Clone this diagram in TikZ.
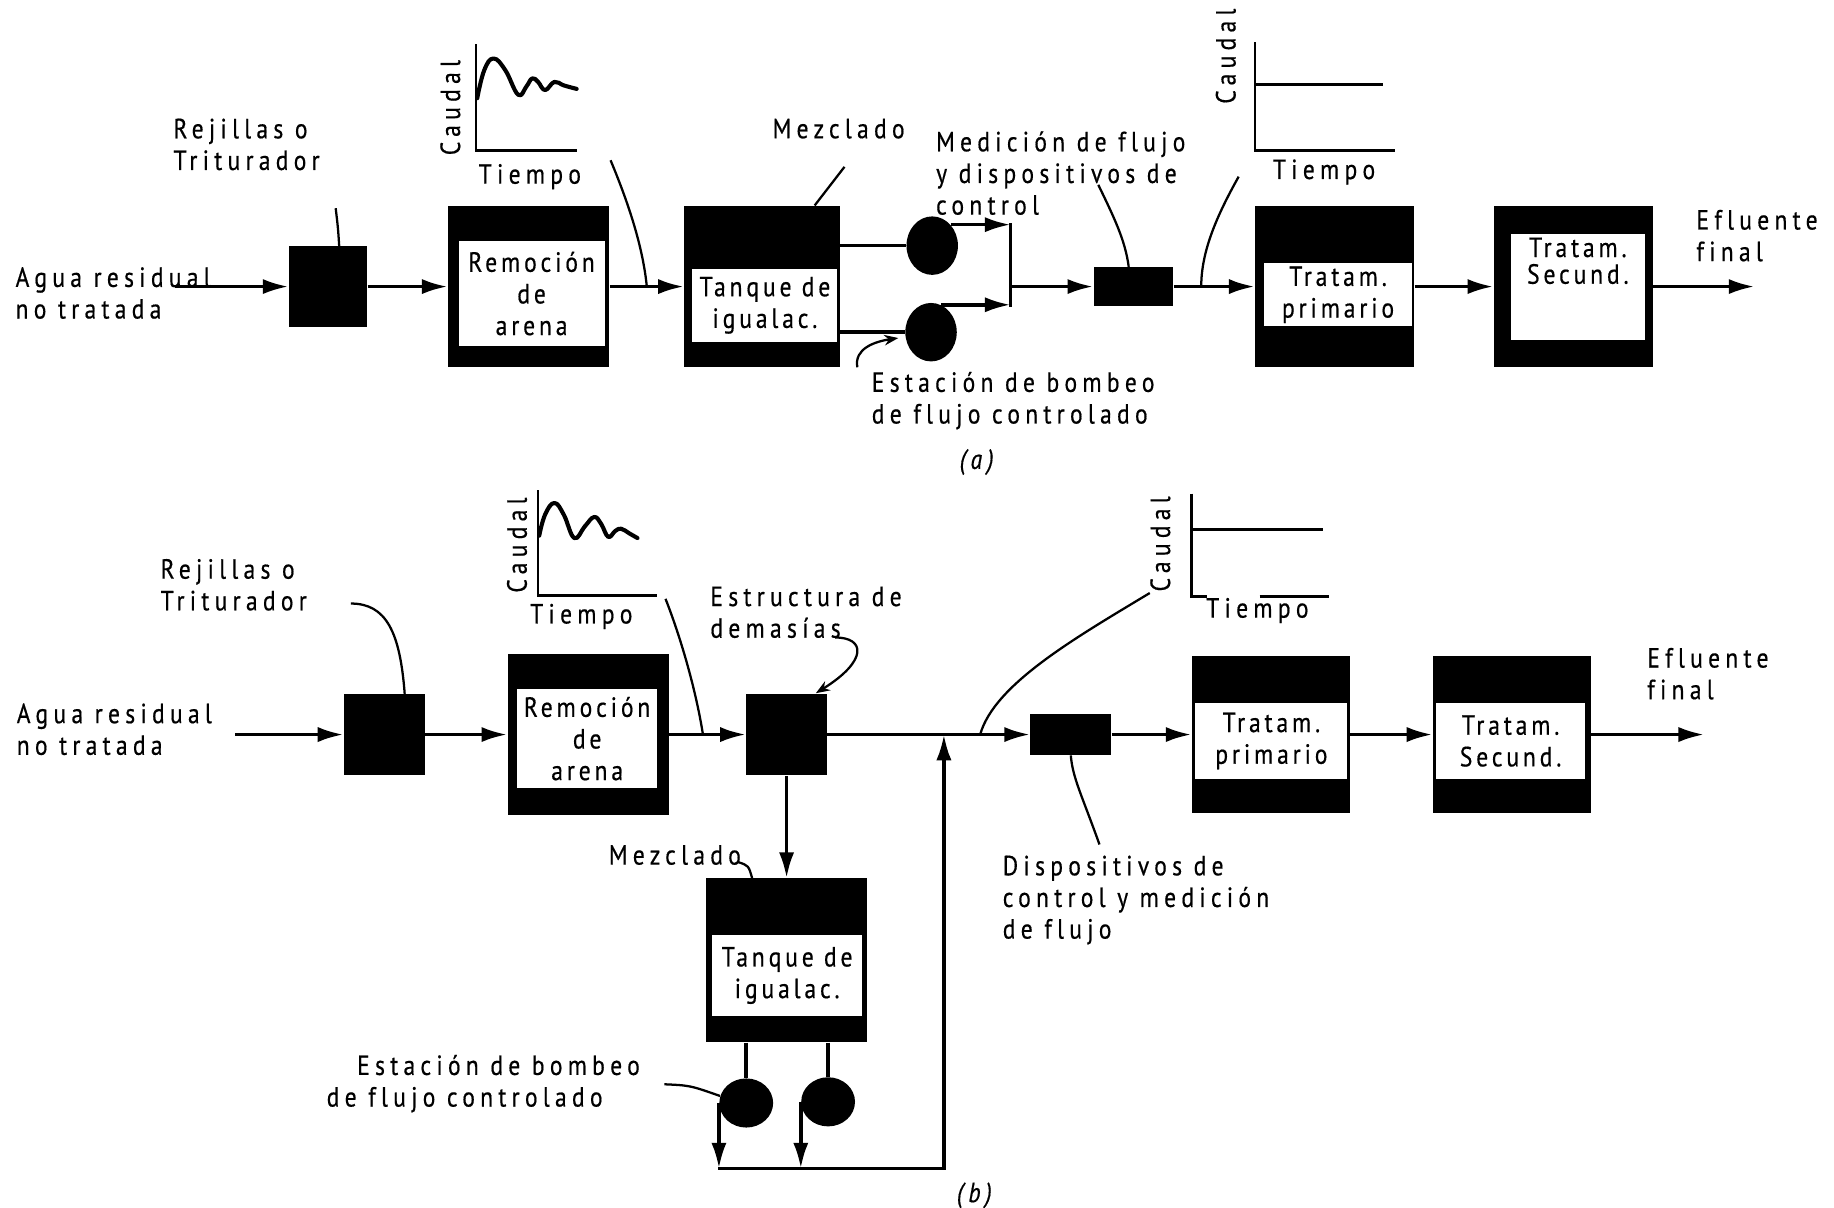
\documentclass[tikz,border=0pt]{standalone}
\usepackage{fontspec}
\setmainfont{PT Sans}[LetterSpace=19,FakeStretch=0.85,FakeBold=0.5,Ligatures=NoCommon]
\newfontfamily\boxfont{PT Sans}[LetterSpace=14,FakeStretch=0.85,FakeBold=0.5,Ligatures=NoCommon]
\usetikzlibrary{arrows.meta,shapes.geometric}
\begin{document}
\begin{tikzpicture}[x=0.02cm,y=-0.02cm,
  every node/.style={font=\fontsize{13.5pt}{15.4pt}\selectfont},
  blk/.style={fill=black,draw=none,inner sep=0pt},
  wht/.style={fill=white,draw=none,inner sep=0pt,align=center,font=\fontsize{13.5pt}{15.4pt}\boxfont},
  lbl/.style={align=left,inner sep=0pt},
  pump/.style={ellipse,fill=black,inner sep=0pt},
  arr/.style={line width=1.7pt,-{Latex[length=0.44cm,width=0.26cm]}},
  conn/.style={line width=1.7pt},
  lead/.style={line width=1.1pt},
  leadarr/.style={line width=1.1pt,-{Stealth[length=0.24cm,width=0.18cm]}},
  axis/.style={line width=1.4pt},
  wave/.style={line width=2pt,line cap=round,line join=round},
  figcap/.style={font=\fontsize{13.5pt}{15.4pt}\selectfont\itshape}
]
\useasboundingbox (0,0) rectangle (1568,1032);

% ================= (a) =================
\node[lbl,anchor=west] (aguaA) at (13,250.5) {Agua residual\\no tratada};
\node[lbl,anchor=west] (rejA) at (148,123.5) {Rejillas o\\Triturador};
\node[blk,minimum width=1.34cm,minimum height=1.38cm] (sA) at (280.5,245) {};
\node[blk,minimum width=2.76cm,minimum height=2.76cm] (remA) at (452,245) {};
\node[wht,minimum width=2.5cm,minimum height=1.8cm] (remAi) at (454.5,251) {Remoción\\de\\arena};
\node[blk,minimum width=2.66cm,minimum height=2.76cm] (tankA) at (651.5,245) {};
\node[wht,minimum width=2.48cm,minimum height=1.24cm] (tankAi) at (654,261) {Tanque de\\igualac.};
\node (mezA) at (717,110) {Mezclado};
\node[pump,minimum width=0.88cm,minimum height=1.0cm] (pA1) at (797,210) {};
\node[pump,minimum width=0.88cm,minimum height=1.0cm] (pA2) at (796,284) {};
\node[blk,minimum width=1.36cm,minimum height=0.66cm] (mA) at (969,245) {};
\node[lbl,anchor=west] (medA) at (800,148) {Medición de flujo\\y dispositivos de\\control};
\node[blk,minimum width=2.72cm,minimum height=2.76cm] (primA) at (1141,245) {};
\node[wht,minimum width=2.52cm,minimum height=1.08cm] (primAi) at (1144,252) {Tratam.\\primario};
\node[blk,minimum width=2.72cm,minimum height=2.74cm] (secA) at (1345,245) {};
\node[wht,minimum width=2.28cm,minimum height=1.82cm] (secAi) at (1349,245.5) {};
\node[align=center,font=\fontsize{13.5pt}{13pt}\boxfont] (secAt) at (1349,223) {Tratam.\\Secund.};
\node[lbl,anchor=west] (efA) at (1450,201.5) {Efluente\\final};
\node[lbl,anchor=west] (estacA) at (745,342.5) {Estación de bombeo\\de flujo controlado};
\node[figcap] (capA) at (835,395) {(a)};

% graphs (a)
\draw[axis] (407,38) -- (407,129) -- (493,129);
\draw[wave] plot[smooth,tension=0.7] coordinates {(408,84) (414,60) (422,50) (432,60) (443,81) (450,74) (455,67) (460,70) (466,77) (474,70) (482,73) (493,76)};
\node[rotate=90] (cauA1) at (385,92) {Caudal};
\node (tieA1) at (453,151) {Tiempo};
\draw[axis] (1073,36) -- (1073,129) -- (1193,129);
\draw[axis] (1073,72) -- (1182,72);
\node[rotate=90] (cauA2) at (1048,48) {Caudal};
\node (tieA2) at (1132,147) {Tiempo};

% coordinates (a)
\coordinate (inA) at (150,245);
\coordinate (jAt) at (864,192);
\coordinate (jAb) at (864,261);
\coordinate (jAm) at (864,245);
\coordinate (outA) at (1500,245);
\coordinate (rejAl) at (287,178);
\coordinate (ldA1) at (522,137);
\coordinate (ldA1e) at (553,245);
\coordinate (medAl) at (939,158);
\coordinate (ldA2) at (1059,151);
\coordinate (ldA2e) at (1027,245);
\coordinate (estAl) at (733,314);
\coordinate (estAe) at (768,289);

% connectors (a)
\draw[arr] (inA) -- (sA.west);
\draw[arr] (sA.east) -- (remA.west);
\draw[arr] (remA.east) -- (tankA.west);
\draw[conn] (tankA.east |- pA1) -- (pA1.west);
\draw[conn] (tankA.east |- pA2) -- (pA2.west);
\draw[arr] (pA1.north east) -- (pA1.north east -| jAt);
\draw[arr] (pA2.70) -- (pA2.70 -| jAt);
\draw[conn,line cap=rect] (jAt) -- (jAb);
\draw[arr] (jAm) -- (mA.west);
\draw[arr] (mA.east) -- (primA.west);
\draw[arr] (primA.east) -- (secA.west);
\draw[arr] (secA.east) -- (outA);
% leaders (a)
\draw[lead] (rejAl) .. controls (289,195) .. ([xshift=0.19cm]sA.north);
\draw[lead] (ldA1) .. controls (540,180) and (550,215) .. (ldA1e);
\draw[lead] ([xshift=0.1cm,yshift=-0.36cm]mezA.south) -- ([xshift=0.9cm]tankA.north);
\draw[lead] (medAl) .. controls (952,185) and (962,205) .. ([xshift=-0.08cm]mA.north);
\draw[lead] (ldA2) .. controls (1040,185) and (1027,215) .. (ldA2e);
\draw[leadarr] (estAl) .. controls (730,298) and (748,292) .. (estAe);

% ================= (b) =================
\node[lbl,anchor=west] (aguaB) at (14,623.5) {Agua residual\\no tratada};
\node[lbl,anchor=west] (rejB) at (137,500) {Rejillas o\\Triturador};
\node[blk,minimum width=1.38cm,minimum height=1.38cm] (sB) at (328.5,628) {};
\node[blk,minimum width=2.76cm,minimum height=2.74cm] (remB) at (503,628) {};
\node[wht,minimum width=2.4cm,minimum height=1.7cm] (remBi) at (502,631.5) {Remoción\\de\\arena};
\node[blk,minimum width=1.38cm,minimum height=1.4cm] (estB) at (672.5,628) {};
\node[lbl,anchor=west] (estrB) at (607,523.5) {Estructura de\\demasías};
\node[blk,minimum width=2.74cm,minimum height=2.8cm] (tankB) at (672.5,821) {};
\node[wht,minimum width=2.56cm,minimum height=1.4cm] (tankBi) at (673,834) {Tanque de\\igualac.};
\node (mezB) at (577,731) {Mezclado};
\node[pump,minimum width=0.92cm,minimum height=0.84cm] (pB1) at (638,943) {};
\node[pump,minimum width=0.92cm,minimum height=0.84cm] (pB2) at (708,942) {};
\node[lbl,anchor=west] (estacB) at (279,926.5) {\hspace*{0.52cm}Estación de bombeo\\de flujo controlado};
\node[blk,minimum width=1.38cm,minimum height=0.7cm] (mB) at (915.5,628) {};
\node[lbl,anchor=west] (dispB) at (857,769.5) {Dispositivos de\\control y medición\\de flujo};
\node[blk,minimum width=2.7cm,minimum height=2.7cm] (primB) at (1086.5,628) {};
\node[wht,minimum width=2.6cm,minimum height=1.3cm] (primBi) at (1087,633.5) {Tratam.\\primario};
\node[blk,minimum width=2.7cm,minimum height=2.7cm] (secB) at (1292.5,628) {};
\node[wht,minimum width=2.54cm,minimum height=1.3cm] (secBi) at (1291.5,633.5) {Tratam.\\Secund.};
\node[lbl,anchor=west] (efB) at (1408,576) {Efluente\\final};
\node[figcap] (capB) at (833,1022) {(b)};

% graphs (b)
\draw[axis] (460,419) -- (460,509) -- (562,509);
\draw[wave] plot[smooth,tension=0.7] coordinates {(461,458) (466,440) (474,430) (482,440) (491,460) (500,450) (508,442) (514,448) (520,459) (526,454) (531,452) (538,456) (545,460)};
\node[rotate=90] (cauB1) at (442,466) {Caudal};
\node (tieB1) at (497,527) {Tiempo};
\draw[axis] (1019,422) -- (1019,510) -- (1032,510);
\draw[axis] (1077,510) -- (1136,510);
\draw[axis] (1019,453) -- (1131,453);
\node[rotate=90] (cauB2) at (992,465) {Caudal};
\node (tieB2) at (1075,522) {Tiempo};

% coordinates (b)
\coordinate (inB) at (201,628);
\coordinate (jB) at (807,628);
\coordinate (botL) at (615,999);
\coordinate (botR) at (807,999);
\coordinate (outB) at (1457,628);
\coordinate (rejBl) at (300,516);
\coordinate (ldB1) at (569,512);
\coordinate (ldB1e) at (601,628);
\coordinate (estrBl) at (714,545);
\coordinate (mezBl) at (631,737);
\coordinate (estacBl) at (568,927);
\coordinate (ldB2) at (983,507);
\coordinate (ldB2e) at (838,628);
\coordinate (dispBl) at (940,722);

% connectors (b)
\draw[arr] (inB) -- (sB.west);
\draw[arr] (sB.east) -- (remB.west);
\draw[arr] (remB.east) -- (estB.west);
\draw[arr] (estB.south) -- (tankB.north);
\draw[conn] (tankB.south -| pB1) -- (pB1.north);
\draw[conn] (tankB.south -| pB2) -- (pB2.north);
\draw[arr] (pB1.west) -- (pB1.west |- botL);
\draw[arr] (pB2.west) -- (pB2.west |- botL);
\draw[conn,line cap=rect] (botL) -- (botR);
\draw[arr] (botR) -- (jB);
\draw[arr] (estB.east) -- (mB.west);
\draw[arr] (mB.east) -- (primB.west);
\draw[arr] (primB.east) -- (secB.west);
\draw[arr] (secB.east) -- (outB);
% leaders (b)
\draw[lead] (rejBl) .. controls (330,516) and (342,540) .. ([xshift=0.35cm]sB.north);
\draw[lead] (ldB1) .. controls (582,545) and (595,590) .. (ldB1e);
\draw[leadarr] (estrBl) .. controls (740,545) and (742,565) .. ([xshift=0.5cm]estB.north);
\draw[lead] (mezBl) .. controls (640,740) .. ([xshift=-0.59cm]tankB.north);
\draw[lead] (estacBl) .. controls (590,928) .. (pB1.165);
\draw[lead] (ldB2) .. controls (920,545) and (850,585) .. (ldB2e);
\draw[lead] (dispBl) .. controls (925,680) and (917,665) .. (mB.south);
\end{tikzpicture}
\end{document}
